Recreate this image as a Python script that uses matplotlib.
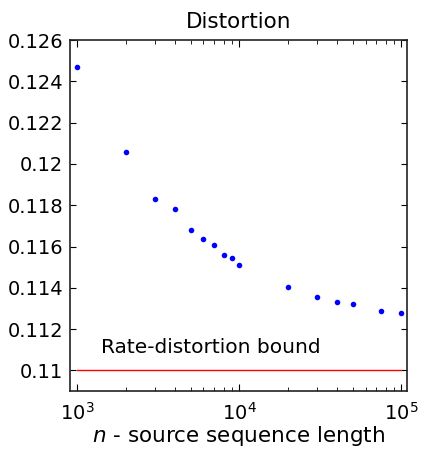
import matplotlib
matplotlib.use("Agg")
import matplotlib.pyplot as plt

n_values = [1000, 2000, 3000, 4000, 5000, 6000, 7000, 8000, 9000, 10000,
            20000, 30000, 40000, 50000, 75000, 100000]
distortion = [0.1247, 0.1206, 0.11828, 0.11783, 0.11679, 0.11636, 0.11606,
              0.11558, 0.11543, 0.11509, 0.11402, 0.11357, 0.11331, 0.11320,
              0.11288, 0.11278]
bound_x = [1000, 100000]
bound_y = [0.11, 0.11]
yticks = [0.11, 0.112, 0.114, 0.116, 0.118, 0.12, 0.122, 0.124, 0.126]
ytick_labels = ["0.11", "0.112", "0.114", "0.116", "0.118", "0.12", "0.122", "0.124", "0.126"]

plt.rcParams['font.family'] = ['DejaVu Sans']
plt.rcParams['mathtext.fontset'] = 'dejavusans'

fig = plt.figure(figsize=(4.24, 4.5), dpi=100)
ax = fig.add_axes([0.165, 0.131, 0.7956, 0.780])

ax.plot(n_values, distortion, 'o', color='blue', markersize=4, markeredgewidth=0)
ax.plot(bound_x, bound_y, '-', color='red', linewidth=1)
ax.text(1394, 0.11082, 'Rate-distortion bound', fontsize=14.5, ha='left', va='baseline')

ax.set_xscale('log')
ax.set_xlim(901, 108600)
ax.set_ylim(0.109, 0.126)
ax.set_yticks(yticks)
ax.set_yticklabels(ytick_labels)

ax.tick_params(which='both', direction='in', top=True, right=True, labelsize=14)
ax.tick_params(axis='y', which='major', pad=5, length=4)
ax.tick_params(axis='x', which='major', pad=8, length=5)
ax.tick_params(axis='x', which='minor', length=3)
for s in ax.spines.values():
    s.set_linewidth(1.2)
    s.set_color('#222222')

ax.set_title('Distortion', fontsize=15.5, pad=9)
ax.set_xlabel('$n$ - source sequence length', fontsize=15.5, labelpad=0)

fig.savefig('out.png', dpi=100)
